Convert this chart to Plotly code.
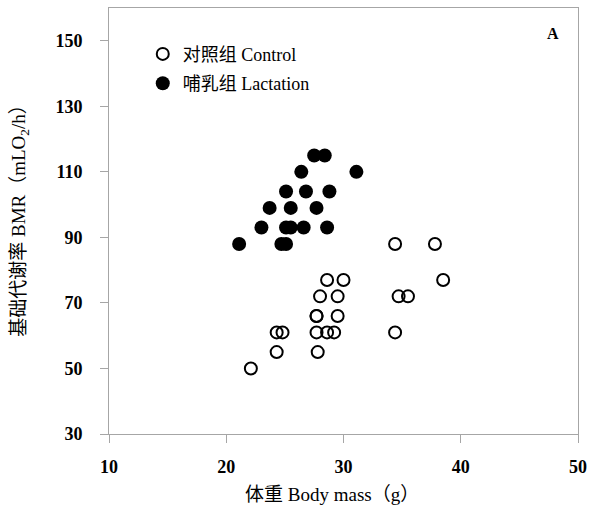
import plotly.graph_objects as go

# Control group (open circles)
control_mass = [22.1, 24.3, 24.3, 24.8, 27.7, 27.8, 27.7, 28.6, 29.2, 27.7, 29.5,
                28.0, 29.5, 28.6, 30.0, 38.5, 34.4, 34.7, 35.5, 34.4, 37.8]
control_bmr = [50, 55, 61, 61, 61, 55, 66, 61, 61, 66, 66,
               72, 72, 77, 77, 77, 61, 72, 72, 88, 88]

# Lactation group (filled circles)
lact_mass = [21.1, 24.7, 25.1, 23.0, 25.1, 25.5, 26.6, 28.6, 23.7, 25.5, 27.7,
             25.1, 26.8, 28.8, 26.4, 31.1, 27.5, 28.4]
lact_bmr = [88, 88, 88, 93, 93, 93, 93, 93, 99, 99, 99,
            104, 104, 104, 110, 110, 115, 115]

x_ticks = [10, 20, 30, 40, 50]
y_ticks = [30, 50, 70, 90, 110, 130, 150]

serif = "Liberation Serif, Times New Roman, Noto Sans CJK SC, serif"

fig = go.Figure()
fig.add_trace(go.Scatter(
    x=control_mass, y=control_bmr, mode="markers", name="对照组 Control",
    legendgroup="c",
    marker=dict(symbol="circle-open", size=12, color="black", line=dict(width=2, color="black")),
))
fig.add_trace(go.Scatter(
    x=lact_mass, y=lact_bmr, mode="markers", name="哺乳组 Lactation",
    legendgroup="l",
    marker=dict(symbol="circle", size=14, color="black"),
))

axis_common = dict(
    showgrid=False, zeroline=False, showline=True, linecolor="#a6a6a6", linewidth=1,
    mirror=True, ticks="outside", ticklen=8, tickcolor="#a6a6a6", tickwidth=1,
    tickfont=dict(family=serif, size=18, color="black", weight="bold"),
    ticklabeloverflow="allow",
)

fig.update_xaxes(range=[10, 50], tickvals=x_ticks, ticklabelstandoff=8, **axis_common)
fig.update_yaxes(range=[30, 160], tickvals=y_ticks, ticklabelstandoff=14, **axis_common)

fig.update_layout(
    width=589, height=511, autosize=False,
    margin=dict(l=109, r=2, t=8, b=77),
    paper_bgcolor="white", plot_bgcolor="white",
    font=dict(family=serif, color="black"),
    showlegend=True,
    legend=dict(
        x=0.072, y=0.935, xanchor="left", yanchor="top",
        font=dict(family=serif, size=18, color="black"),
        bgcolor="rgba(0,0,0,0)", tracegroupgap=3, traceorder="grouped",
        itemwidth=30,
    ),
    annotations=[
        dict(text="体重 Body mass（g）", xref="paper", yref="paper", x=0.475, y=-0.142,
             showarrow=False, font=dict(family=serif, size=19, color="black"),
             xanchor="center", yanchor="middle"),
        dict(text="基础代谢率 BMR（mLO<sub>2</sub>/h）", xref="paper", yref="paper",
             x=-0.19, y=0.512, textangle=-90, showarrow=False,
             font=dict(family=serif, size=19, color="black"),
             xanchor="center", yanchor="middle"),
        dict(text="<b>A</b>", xref="paper", yref="paper", x=0.946, y=0.941,
             showarrow=False, font=dict(family=serif, size=16, color="black"),
             xanchor="center", yanchor="middle"),
    ],
)

fig.write_html(
    "out.html",
    config={"responsive": False, "displayModeBar": False},
    post_script="document.documentElement.style.margin='0';document.body.style.margin='0';"
                "document.documentElement.style.overflow='hidden';"
                "document.body.style.overflow='hidden';",
)
